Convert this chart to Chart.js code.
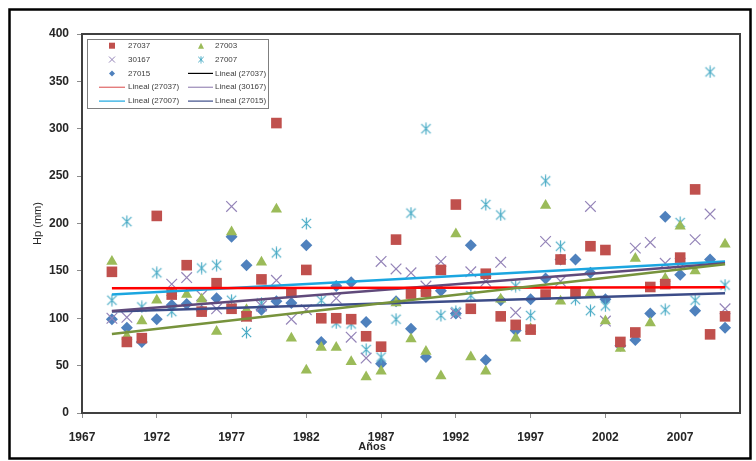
<!DOCTYPE html>
<html><head><meta charset="utf-8">
<script src="https://cdn.jsdelivr.net/npm/chart.js@4.4.1/dist/chart.umd.min.js"></script>
<style>html,body{margin:0;padding:0;background:#fff;}#wrap{width:756px;height:461px;}</style>
</head><body><div id="wrap"><canvas id="c" width="756" height="461"></canvas></div>
<script>
// ---- data ----
const years = [1969,1970,1971,1972,1973,1974,1975,1976,1977,1978,1979,1980,1981,1982,1983,1984,1985,1986,1987,1988,1989,1990,1991,1992,1993,1994,1995,1996,1997,1998,1999,2000,2001,2002,2003,2004,2005,2006,2007,2008,2009,2010];
const s27037 = [149,75,79,208,125,156,107,137,110,102, 141,306,127,151,100,100,99,81,70,183, 126,128,151,220,110,147,102,93,88,125, 162,128,176,172,75,85,133,136,164,236, 83,102];
const s27003 = [160,81,97,119,127,125,120,86,191,109, 159,215,79,45,69,69,54,38,44,116, 78,65,39,189,59,44,120,79,89,219, 118,124,127,97,68,163,95,142,197,150, null,178];
const s30167 = [100,101,null,null,136,143,124,110,218,102, 113,140,99,109,null,121,80,58,160,152, 148,134,160,105,149,139,159,106,null,181, 139,null,218,97,null,174,180,158,158,183, 210,110];
const s27007 = [119,202,112,148,107,null,153,156,119,85, 116,169,null,200,119,95,94,67,59,99, 211,300,103,107,124,220,209,134,103,245, 176,120,108,113,null,null,null,109,201,119, 360,135];
const s27015 = [99,90,75,99,114,115,108,121,186,156, 109,118,116,177,75,134,138,96,52,118, 89,59,129,105,177,56,119,87,120,142, 162,162,148,120,71,77,105,207,146,108, 162,90];
// trend lines (value at first and last year)
const trendYears = [1969, 2010];
const t27003 = [83.4, 157];
const t27037 = [131.6, 132.6];
const t30167 = [107.6, 158];
const t27007 = [125, 160];
const t27015 = [107, 126.3];
const xTicks = [1967,1972,1977,1982,1987,1992,1997,2002,2007];
const yTicks = [0,50,100,150,200,250,300,350,400];
const legendLabels = ['27037','27003','30167','27007','27015','Lineal (27037)','Lineal (27037)','Lineal (30167)','Lineal (27007)','Lineal (27015)'];

// ---- helpers ----
const pts = arr => years.map((yr,i)=>arr[i]==null?null:{x:yr,y:arr[i]}).filter(p=>p);
const line = arr => trendYears.map((yr,i)=>({x:yr,y:arr[i]}));
function makeAsterisk(size,color,lw){
  const c=document.createElement('canvas'); c.width=size; c.height=size;
  const g=c.getContext('2d'); g.strokeStyle=color; g.lineWidth=lw;
  const m=size/2, r=size/2-0.5, d=r*0.78;
  g.beginPath();
  g.moveTo(m,m-r); g.lineTo(m,m+r);
  g.moveTo(m-d,m-d); g.lineTo(m+d,m+d);
  g.moveTo(m+d,m-d); g.lineTo(m-d,m+d);
  g.stroke(); return c;
}
const C = {red:'#C0504D', green:'#9BBB59', purple:'#9484B8', cyan:'#4BACC6', blue:'#4F81BD'};
const astBig = makeAsterisk(13, C.cyan, 1.2);
const astSmall = makeAsterisk(8, C.cyan, 1);

function drawMarker(ctx, kind, x, y, s, color){
  ctx.save(); ctx.fillStyle=color; ctx.strokeStyle=color; ctx.lineWidth=1;
  ctx.beginPath();
  if(kind==='rect'){ ctx.fillRect(x-s/2,y-s/2,s,s); }
  else if(kind==='triangle'){ ctx.moveTo(x,y-s/2); ctx.lineTo(x+s/2,y+s/2); ctx.lineTo(x-s/2,y+s/2); ctx.closePath(); ctx.fill(); }
  else if(kind==='crossRot'){ const d=s/2; ctx.moveTo(x-d,y-d); ctx.lineTo(x+d,y+d); ctx.moveTo(x+d,y-d); ctx.lineTo(x-d,y+d); ctx.stroke(); }
  else if(kind==='rectRot'){ const d=s/2; ctx.moveTo(x,y-d); ctx.lineTo(x+d,y); ctx.lineTo(x,y+d); ctx.lineTo(x-d,y); ctx.closePath(); ctx.fill(); }
  else if(kind==='ast'){ ctx.drawImage(astSmall, x-4, y-4); }
  ctx.restore();
}

const decor = {
  id:'decor',
  beforeDraw(chart){ const c=chart.ctx; c.save(); c.fillStyle='#fff'; c.fillRect(0,0,chart.width,chart.height); c.restore(); },
  afterDraw(chart){
    const c=chart.ctx, a=chart.chartArea;
    c.save();
    // outer frame
    c.strokeStyle='#000'; c.lineWidth=2.5; c.strokeRect(9.5,9.5,741,449);
    // plot border
    c.strokeStyle='#404040'; c.lineWidth=2; c.strokeRect(a.left,a.top,a.right-a.left,a.bottom-a.top);
    // x axis title
    c.fillStyle='#262626'; c.font='bold 11px "Liberation Sans", Arial, sans-serif'; c.textAlign='center'; c.textBaseline='middle';
    c.fillText('Años', 372, 447);
    // legend
    c.fillStyle='#fff'; c.fillRect(87,39,181,69);
    c.strokeStyle='#7f7f7f'; c.lineWidth=1; c.strokeRect(87.5,39.5,181,69);
    const ds = chart.data.datasets;
    c.font='8px "Liberation Sans", Arial, sans-serif'; c.textAlign='left'; c.fillStyle='#404040';
    for(let i=0;i<legendLabels.length;i++){
      const row=Math.floor(i/2), col=i%2;
      const y=45.7+row*13.85;
      const d=ds[i];
      if(d.legendKind==='line'){
        const x0 = col===0?99:188, x1 = col===0?125:213;
        c.save(); c.strokeStyle=d.legendColor||d.borderColor; c.lineWidth=1.2; c.beginPath(); c.moveTo(x0,y); c.lineTo(x1,y); c.stroke(); c.restore();
        c.fillText(legendLabels[i], col===0?128:215, y);
      } else {
        drawMarker(c, d.legendKind, col===0?112:201, y, 6, d.legendColor);
        c.fillText(legendLabels[i], col===0?128:215, y);
      }
    }
    c.restore();
  }
};

const tickFont = {family:'"Liberation Sans", Arial, sans-serif', size:12, weight:'bold'};
new Chart(document.getElementById('c'), {
  type:'scatter',
  data:{datasets:[
    {label:'27037', data:pts(s27037), pointStyle:'rect', pointRadius:7.5, backgroundColor:C.red, borderColor:C.red, pointBorderWidth:0, order:2, legendKind:'rect', legendColor:C.red},
    {label:'27003', data:pts(s27003), pointStyle:'triangle', pointRadius:6.5, backgroundColor:C.green, borderColor:C.green, pointBorderWidth:0, order:2, legendKind:'triangle', legendColor:C.green},
    {label:'30167', data:pts(s30167), pointStyle:'crossRot', pointRadius:7.5, backgroundColor:C.purple, borderColor:C.purple, pointBorderWidth:1.2, order:2, legendKind:'crossRot', legendColor:C.purple},
    {label:'27007', data:pts(s27007), pointStyle:astBig, pointRadius:6, backgroundColor:C.cyan, borderColor:C.cyan, order:2, legendKind:'ast', legendColor:C.cyan},
    {label:'27015', data:pts(s27015), pointStyle:'rectRot', pointRadius:6, backgroundColor:C.blue, borderColor:C.blue, pointBorderWidth:0, order:2, legendKind:'rectRot', legendColor:C.blue},
    {label:'Lineal (27003)', data:line(t27003), showLine:true, pointRadius:0, borderColor:'#77933C', borderWidth:2.5, order:1, legendKind:'line', legendColor:'#000'},
    {label:'Lineal (27037)', data:line(t27037), showLine:true, pointRadius:0, borderColor:'#FF0000', borderWidth:2.5, order:1, legendKind:'line', legendColor:'#E06666'},
    {label:'Lineal (30167)', data:line(t30167), showLine:true, pointRadius:0, borderColor:'#604A7B', borderWidth:2.5, order:1, legendKind:'line', legendColor:'#9A8AB8'},
    {label:'Lineal (27007)', data:line(t27007), showLine:true, pointRadius:0, borderColor:'#1BA6E0', borderWidth:2.5, order:1, legendKind:'line', legendColor:'#1BA6E0'},
    {label:'Lineal (27015)', data:line(t27015), showLine:true, pointRadius:0, borderColor:'#3C4C88', borderWidth:2.5, order:1, legendKind:'line', legendColor:'#3C4C88'}
  ]},
  options:{
    responsive:false, animation:false, devicePixelRatio:1,
    layout:{padding:{left:24, right:16, top:34, bottom:6}},
    plugins:{legend:{display:false}, tooltip:{enabled:false}},
    scales:{
      x:{type:'linear', min:1967, max:2011,
        afterBuildTicks:s=>{s.ticks = xTicks.map(v=>({value:v}));},
        afterFit:s=>{s.height=42;},
        ticks:{font:tickFont, color:'#262626', padding:12, maxRotation:0, autoSkip:false, callback:v=>String(v)},
        grid:{display:true, drawOnChartArea:false, drawTicks:true, tickLength:5, color:'#8c8c8c'},
        border:{display:true, color:'#404040', width:2}},
      y:{type:'linear', min:0, max:400,
        afterBuildTicks:s=>{s.ticks = yTicks.map(v=>({value:v}));},
        afterFit:s=>{s.width=58;},
        ticks:{font:tickFont, color:'#262626', padding:8, callback:v=>String(v)},
        title:{display:true, text:'Hp (mm)', font:{family:'"Liberation Sans", Arial, sans-serif', size:11}, color:'#262626', padding:{top:7,bottom:0}},
        grid:{display:true, drawOnChartArea:false, drawTicks:true, tickLength:5, color:'#8c8c8c'},
        border:{display:true, color:'#404040', width:2}}
    }
  },
  plugins:[decor]
});
</script></body></html>
